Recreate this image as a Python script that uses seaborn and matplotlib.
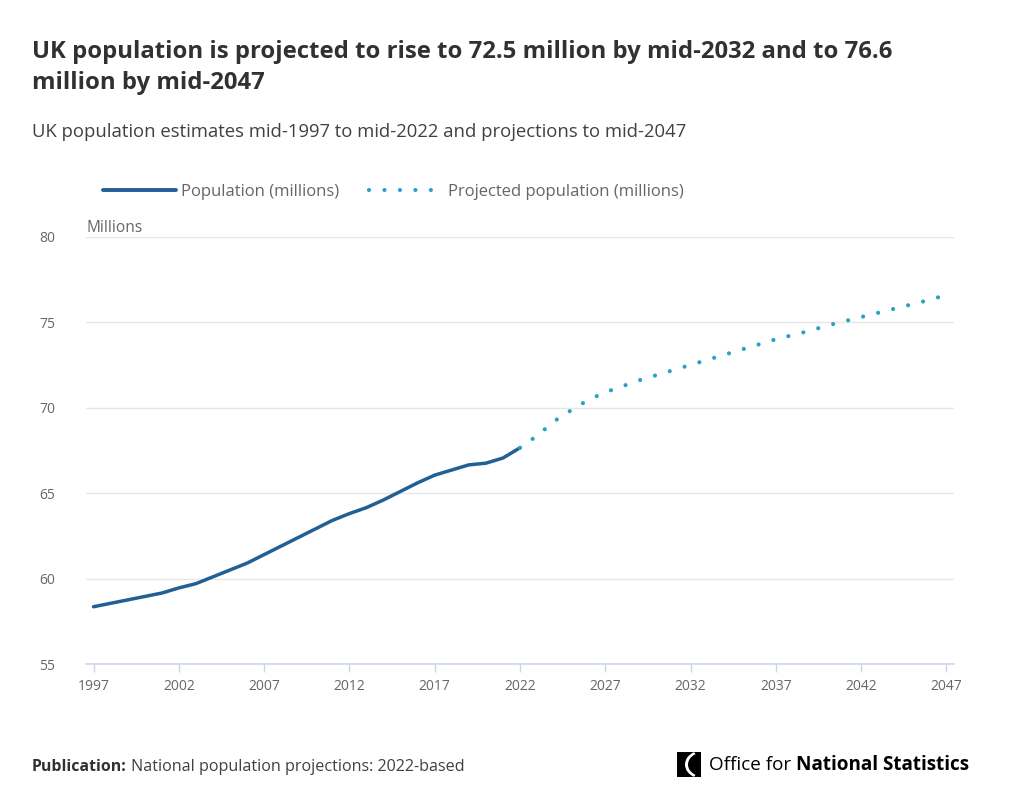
import matplotlib
matplotlib.use("Agg")
import matplotlib.pyplot as plt
from matplotlib.lines import Line2D
from matplotlib.patches import Rectangle, Wedge
import seaborn as sns
import pandas as pd

# ---- data ----
est_years = list(range(1997, 2023))
est_values = [58.35, 58.55, 58.75, 58.95, 59.15, 59.45, 59.70, 60.10, 60.50, 60.90,
              61.40, 61.90, 62.40, 62.90, 63.40, 63.80, 64.15, 64.60, 65.10, 65.60,
              66.05, 66.35, 66.65, 66.75, 67.05, 67.65]
proj_years = list(range(2022, 2048))
proj_values = [67.65, 68.35, 69.20, 69.85, 70.45, 70.90, 71.25, 71.60, 71.90, 72.20,
               72.50, 72.80, 73.10, 73.40, 73.70, 74.00, 74.25, 74.50, 74.80, 75.05,
               75.30, 75.55, 75.80, 76.05, 76.30, 76.60]
x_ticks = [1997, 2002, 2007, 2012, 2017, 2022, 2027, 2032, 2037, 2042, 2047]
y_ticks = [55, 60, 65, 70, 75, 80]
est_label = "Population (millions)"
proj_label = "Projected population (millions)"
title = "UK population is projected to rise to 72.5 million by mid-2032 and to 76.6\nmillion by mid-2047"
subtitle = "UK population estimates mid-1997 to mid-2022 and projections to mid-2047"

DARK = "#206095"
LIGHT = "#27a0cc"
DOTS = (0, (0.01, 3.7))

sns.set_theme(style="white")
plt.rcParams["font.family"] = ["Open Sans", "DejaVu Sans"]
plt.rcParams["lines.dash_capstyle"] = "round"
plt.rcParams["lines.solid_capstyle"] = "round"

df_est = pd.DataFrame({"year": est_years, "value": est_values})
df_proj = pd.DataFrame({"year": proj_years, "value": proj_values})

fig = plt.figure(figsize=(10.11, 8.02), dpi=100)
W, H = 1011, 802
ax = fig.add_axes([86 / W, (H - 664) / H, (954 - 86) / W, (664 - 236.7) / H])

sns.lineplot(data=df_est, x="year", y="value", ax=ax, color=DARK, linewidth=2.5)
sns.lineplot(data=df_proj, x="year", y="value", ax=ax, color=LIGHT, linewidth=3.0,
             linestyle=DOTS)

ax.set_xlim(1996.56, 2047.44)
ax.set_ylim(55, 80)
ax.set_xticks(x_ticks)
ax.set_yticks(y_ticks)
ax.set_xlabel("")
ax.set_ylabel("")
ax.grid(axis="y", color="#e6e6e6", linewidth=1.0)
ax.set_axisbelow(True)
for s in ["top", "right", "left"]:
    ax.spines[s].set_visible(False)
ax.spines["bottom"].set_color("#ccd6eb")
ax.spines["bottom"].set_linewidth(1.2)
ax.tick_params(axis="x", length=6, width=1, color="#ccd6eb", labelsize=10,
               labelcolor="#666666", pad=5, bottom=True)
ax.tick_params(axis="y", length=0, labelsize=10, labelcolor="#666666", pad=22)
for lbl in ax.get_yticklabels():
    lbl.set_horizontalalignment("right")

# "Millions" unit label
fig.text(86 / W, 1 - 228 / H, "Millions", fontsize=11.2, color="#666666", va="center", ha="left")

# Legend
handles = [Line2D([], [], color=DARK, linewidth=2.8),
           Line2D([], [], color=LIGHT, linewidth=3.0, linestyle=DOTS)]
leg = fig.legend(handles, [est_label, proj_label], loc="center left",
                 bbox_to_anchor=(88 / W, 1 - 192 / H), ncol=2, frameon=False,
                 fontsize=12, handlelength=4.4, handletextpad=0.3, columnspacing=1.8,
                 labelcolor="#666666")

# Title and subtitle
fig.text(32 / W, 1 - 67.5 / H, title, fontsize=17.2, fontweight="bold", color="#323132",
         ha="left", va="center", linespacing=1.42)
fig.text(32 / W, 1 - 132 / H, subtitle, fontsize=13.3, color="#414042",
         ha="left", va="center")

# Footer
t1 = fig.text(32 / W, 1 - 767 / H, "Publication:", fontsize=11.4, fontweight="bold",
              color="#323132", ha="left", va="center")
fig.canvas.draw()
bb = t1.get_window_extent()
fig.text((bb.x1 + 4) / W, 1 - 767 / H, "National population projections: 2022-based",
         fontsize=11.6, color="#414042", ha="left", va="center")

# ONS logo approximation
fig.patches.append(Rectangle((677 / W, 1 - 777 / H), 24 / W, 25 / H, transform=fig.transFigure,
                             facecolor="black", edgecolor="none"))
fig.patches.append(Wedge((703 / W, 1 - 764.5 / H), 18 / W, 120, 240, width=3 / W,
                         transform=fig.transFigure, facecolor="white", edgecolor="none"))
t2 = fig.text(709 / W, 1 - 765 / H, "Office for ", fontsize=13.6, color="black",
              ha="left", va="center")
fig.canvas.draw()
bb2 = t2.get_window_extent()
fig.text(bb2.x1 / W, 1 - 765 / H, "National Statistics", fontsize=13.6, fontweight="bold",
         color="black", ha="left", va="center")

fig.savefig("out.png", dpi=100, facecolor="white")
